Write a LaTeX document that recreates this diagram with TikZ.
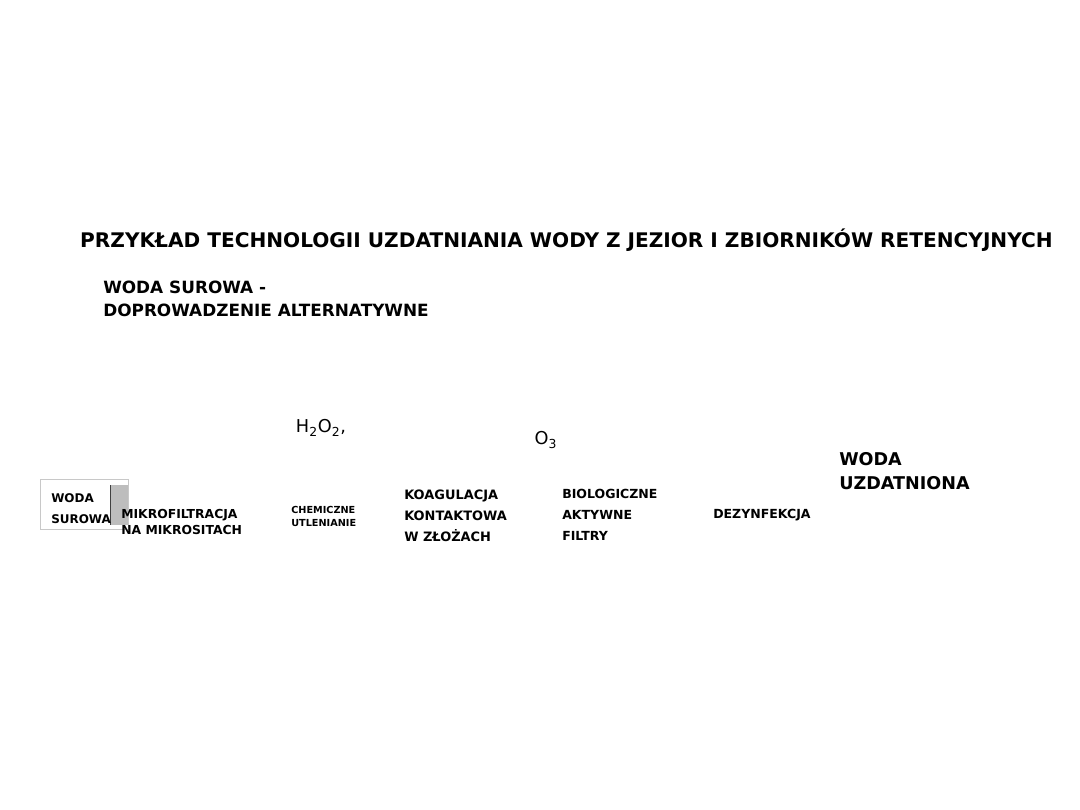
\documentclass[tikz,border=0pt]{standalone}
\usepackage{fontspec}
\setmainfont{DejaVu Sans}
\usepackage{xcolor}
\usepackage{tikz}
\usetikzlibrary{positioning}
\definecolor{ProcGray}{HTML}{BDBDBD}
\definecolor{FrameGray}{HTML}{C8C8C8}

\tikzset{
  stage/.style={anchor=west,align=left,inner sep=0pt,font=\bfseries\fontsize{8.9}{15}\selectfont},
  chem/.style={inner sep=0pt,font=\fontsize{12.6}{15}\selectfont},
}

\begin{document}
\begin{tikzpicture}[x=0.025cm,y=-0.025cm]
  \useasboundingbox (0,0) rectangle (1080,810);
  % naglowek
  \node[inner sep=0pt,font=\bfseries\fontsize{14.3}{16}\selectfont] (title) at (566.5,240)
    {PRZYKŁAD TECHNOLOGII UZDATNIANIA WODY Z JEZIOR I ZBIORNIKÓW RETENCYJNYCH};
  \node[anchor=west,align=left,inner sep=0pt,font=\bfseries\fontsize{12}{16.3}\selectfont] (alt) at (103,298.5)
    {WODA SUROWA -\\DOPROWADZENIE ALTERNATYWNE};
  % reagenty
  \node[chem] (h2o2) at (321,428) {H\textsubscript{2}O\textsubscript{2},};
  \node[chem] (o3) at (546,440) {O\textsubscript{3}};
  % ciag technologiczny
  \draw[FrameGray] (40,479) rectangle (128,529);
  \fill[ProcGray] (110,485) rectangle (128,525);
  \draw[black!75] (110,485)--(110,525);
  \node[stage,font=\bfseries\fontsize{8.5}{14.8}\selectfont] (raw) at (51,508.5) {WODA\\SUROWA};
  \node[stage,font=\bfseries\fontsize{8.8}{11.3}\selectfont] (mikro) at (121,522) {MIKROFILTRACJA\\NA MIKROSITACH};
  \node[stage,font=\bfseries\fontsize{6.9}{9.2}\selectfont] (utl) at (291,516.5) {CHEMICZNE\\UTLENIANIE};
  \node[stage,font=\bfseries\fontsize{9.2}{15}\selectfont] (koag) at (404,515.5) {KOAGULACJA\\KONTAKTOWA\\W ZŁOŻACH};
  \node[stage] (bio) at (562,515) {BIOLOGICZNE\\AKTYWNE\\FILTRY};
  \node[stage] (dez) at (713,515) {DEZYNFEKCJA};
  \node[anchor=west,align=left,inner sep=0pt,font=\bfseries\fontsize{12.5}{17}\selectfont] (clean) at (839,471)
    {WODA\\UZDATNIONA};
\end{tikzpicture}
\end{document}
